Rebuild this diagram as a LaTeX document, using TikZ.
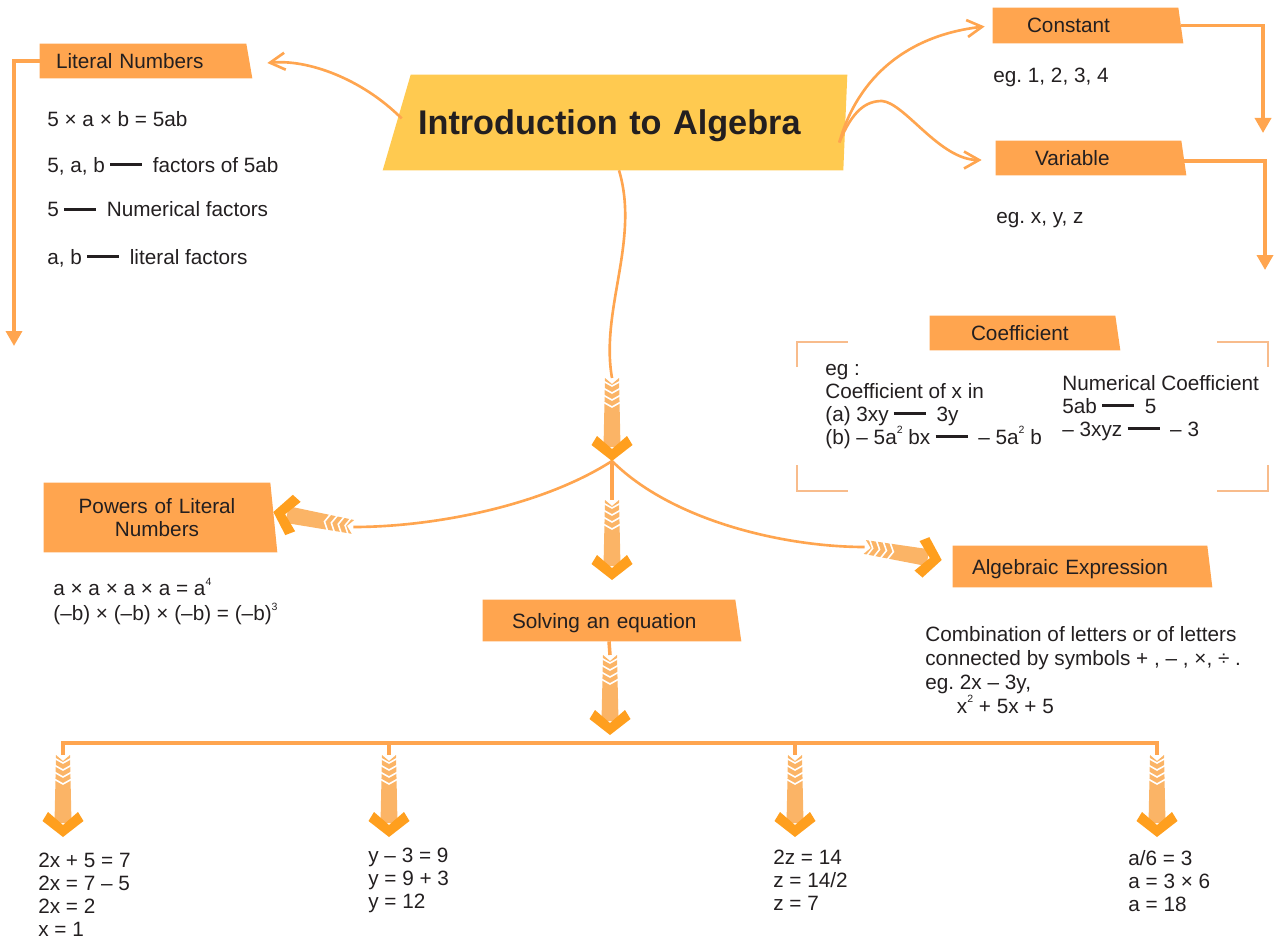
\documentclass[tikz,border=0pt]{standalone}
\usepackage{fontspec}
\setmainfont{Liberation Sans}
\usetikzlibrary{arrows.meta,calc,backgrounds}
\definecolor{bandor}{HTML}{FFA54F}
\definecolor{bandyel}{HTML}{FFCA50}
\definecolor{wireor}{HTML}{FFA54F}
\definecolor{heador}{HTML}{FF9F1E}
\definecolor{shaftor}{HTML}{FBB466}
\definecolor{frameor}{HTML}{F8BC8C}
\definecolor{ink}{HTML}{231F20}
\newcommand{\fdash}{\hspace{3pt}\rule[0.3em]{1.55em}{1.6pt}\hspace{6pt}}
\newcommand{\sq}[1]{\smash{\raisebox{0.5em}{\fontsize{6}{6}\selectfont #1}}}

\begin{document}
\begin{tikzpicture}[x=0.02cm,y=-0.02cm,
   every node/.style={text=ink,inner sep=0pt,font=\fontsize{11.8}{13}\selectfont},
   band/.style={minimum height=#1,align=left},
   flat/.style={text depth=0pt},
   txt/.style={anchor=north west,align=left},
   wire/.style={draw=wireor,line width=2pt},
   curvy/.style={draw=wireor,line width=1.5pt},
   barb/.style={curvy,-{Straight Barb[length=0.3cm,width=0.34cm]}},
   drop/.style={wire,-{Triangle[length=0.3cm,width=0.32cm]}},
   frame/.style={draw=frameor,line width=0.6pt},
   pics/feather/.style={code={
      \fill[shaftor] (-#1,-7) -- (-14,-8.5) -- (-14,8.5) -- (-#1,7) -- (-#1+6,0) -- cycle;
      \foreach \k in {1,...,4}
         \draw[white,line width=0.9pt] (-#1+7*\k-4,-9) -- (-#1+7*\k+1,0) -- (-#1+7*\k-4,9);
      \fill[heador] (0,0) -- (-16,-20.5) -- (-25,-15) -- (-12,0) -- (-25,15) -- (-16,20.5) -- cycle;
   }}]
   \useasboundingbox (0,0) rectangle (1277,942);

   % banners
   \node[band=0.68cm,flat,inner xsep=0.32cm,text width=3.48cm] (lit) at (143,61) {Literal Numbers};
   \node[band=1.9cm,flat,inner xsep=0.14cm,text width=8.44cm,font=\fontsize{19.5}{22}\selectfont\bfseries] (title) at (629,122.5) {Introduction to Algebra};
   \node[band=0.7cm,flat,inner xsep=0.68cm,text width=2.34cm] (const) at (1085.5,25.5) {Constant};
   \node[band=0.68cm,flat,inner xsep=0.78cm,text width=2.14cm] (var) at (1088.5,158) {Variable};
   \node[band=0.68cm,flat,inner xsep=0.82cm,text width=2.06cm] (coef) at (1022.5,333) {Coefficient};
   \node[band=1.38cm,text width=4.52cm,align=center] (powers) at (157,517.5) {Powers of Literal\\Numbers};
   \node[band=0.82cm,flat,inner xsep=0.58cm,text width=3.88cm] (solve) at (609,620.5) {Solving an equation};
   \node[band=0.82cm,flat,inner xsep=0.38cm,text width=4.32cm] (alg) at (1080,566.5) {Algebraic Expression};

   \begin{scope}[on background layer]
      \foreach \b/\s in {lit/6,const/5,var/5,coef/5,powers/7,solve/6,alg/5}
         \fill[bandor] (\b.north west) -- (\b.north east) -- ($(\b.south east)+(\s,0)$) -- (\b.south west) -- cycle;
      \fill[bandyel] (title.north west) -- (title.north east) -- ($(title.south east)+(-4,0)$) -- ($(title.south west)+(-28,0)$) -- cycle;
   \end{scope}

   % texts
   \node[txt] (litex) at (47,111) {5 × a × b = 5ab\\[13pt]5, a, b\fdash factors of 5ab\\[12.5pt]5\fdash Numerical factors\\[14pt]a, b\fdash literal factors};
   \node[anchor=base west] (consteg) at (993,82.5) {eg.\ 1, 2, 3, 4};
   \node[anchor=base west] (vareg) at (996,223.5) {eg.\ x, y, z};
   \node[txt] (coefl) at (825,364) {eg :\\Coefficient of x in\\(a) 3xy\fdash 3y\\(b) – 5a\sq{2} bx\fdash – 5a\sq{2} b};
   \node[txt] (coefr) at (1062,375) {Numerical Coefficient\\5ab\fdash 5\\– 3xyz\fdash – 3};
   \node[txt,font=\fontsize{11.8}{14.2}\selectfont] (powex) at (53,584) {a × a × a × a = a\sq{4}\\(–b) × (–b) × (–b) = (–b)\sq{3}};
   \node[txt,font=\fontsize{11.8}{13.6}\selectfont] (algex) at (925,626) {Combination of letters or of letters\\connected by symbols + , – , ×, ÷ .\\eg.\ 2x – 3y,\\\hspace*{18pt}x\sq{2} + 5x + 5};
   \node[txt] (eqa) at (38,853) {2x + 5 = 7\\2x = 7 – 5\\2x = 2\\x = 1};
   \node[txt] (eqb) at (368,848) {y – 3 = 9\\y = 9 + 3\\y = 12};
   \node[txt] (eqc) at (773,850) {2z = 14\\z = 14/2\\z = 7};
   \node[txt] (eqd) at (1128,850) {a/6 = 3\\a = 3 × 6\\a = 18};

   \draw[frame] (797,367) |- (848,342);
   \draw[frame] (1217,342) -| (1268,367);
   \draw[frame] (797,465) |- (848,491);
   \draw[frame] (1217,491) -| (1268,465);

   % connectors
   \coordinate (hub) at (612,461);
   \coordinate (midtip) at (612,580);
   \coordinate (soltip) at (610,735);
   \coordinate (powtip) at ($(powers.east)+(3,-5.5)$);
   \coordinate (powtail) at ($(powtip)+(80,15)$);
   \coordinate (algtip) at ($(alg.west)+(-11,-6.5)$);
   \coordinate (algtail) at ($(algtip)+(-77,-13)$);
   \coordinate (ldown) at (14,346);
   \coordinate (cdown) at (1263,133);
   \coordinate (vdown) at (1265,270);
   \coordinate (vpeak) at (882,101);

   \draw[barb] ($(title.west)+(-9,-4)$) .. controls +(-40,-40) and +(40,-4) .. ($(lit.east)+(21,2)$);
   \draw[barb] ($(title.east)+(-8,20)$) .. controls +(19,-67.5) and +(-75,8.5) .. ($(const.west)+(-8,1)$);
   \draw[barb] ($(title.east)+(-8,20)$) .. controls +(13,-32) and +(-16,0) .. (vpeak) .. controls +(23,2) and +(-42,0) .. ($(var.west)+(-14,2)$);
   \draw[curvy] ($(title.south)+(-10,0)$) .. controls +(21,70) and +(-12,-68) .. ($(hub)+(0,-83)$);
   \draw[curvy] (hub) .. controls +(-70,45) and +(80,0) .. (powtail);
   \draw[curvy] (hub) .. controls +(60,60) and +(-80,0) .. (algtail);
   \draw[wire] (hub) -- ($(midtip)+(0,-80)$);
   \draw[wire] (solve.south) -- ($(soltip)+(0,-80)$);

   \draw[drop] (lit.west) -| (ldown);
   \draw[drop] ($(const.east)+(3,0)$) -| (cdown);
   \draw[drop] ($(var.east)+(3,3)$) -| (vdown);

   \foreach \n/\x in {1/63,2/389,3/795,4/1157} \coordinate (b\n) at (\x,837);
   \draw[wire] ($(b1)+(0,-82)$) |- ($(b4)+(0,-94)$) -- ($(b4)+(0,-82)$);
   \foreach \n in {2,3} \draw[wire] ($(b\n)+(0,-94)$) -- ($(b\n)+(0,-82)$);

   \pic[rotate=-90] at (hub) {feather=83};
   \pic[rotate=-90] at (midtip) {feather=80};
   \pic[rotate=-90] at (soltip) {feather=80};
   \pic[rotate=169.4] at (powtip) {feather=81};
   \pic[rotate=-9.6] at (algtip) {feather=78};
   \foreach \n in {1,...,4} \pic[rotate=-90] at (b\n) {feather=82};
\end{tikzpicture}
\end{document}
